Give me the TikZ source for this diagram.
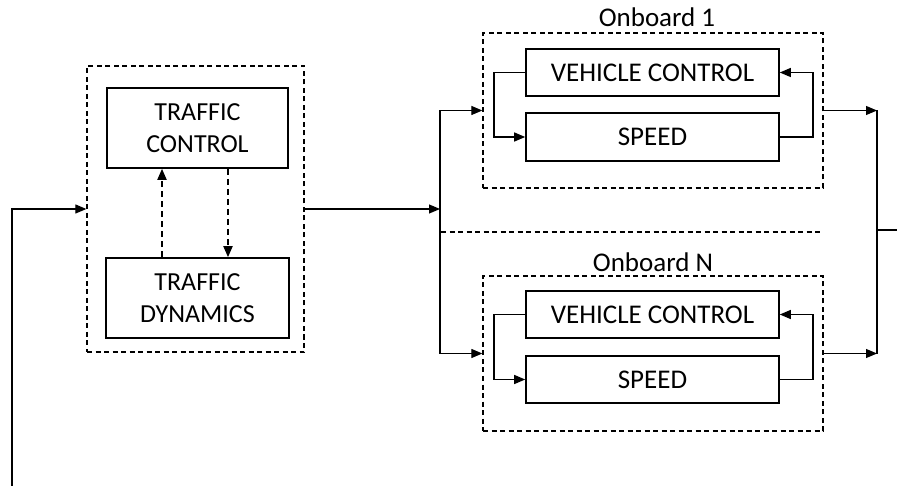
\documentclass[tikz,border=0pt]{standalone}
\usepackage{fontspec}
\setmainfont{Carlito}
\usetikzlibrary{arrows.meta}
\begin{document}
\begin{tikzpicture}[x=1pt,y=-1pt,
  blk/.style={draw,line width=1.6pt,rectangle,inner sep=0pt,anchor=center},
  grp/.style={draw,dash pattern=on 5pt off 3.5pt,line width=1.3pt,rectangle,inner sep=0pt,anchor=center},
  conn/.style={line width=1.2pt},
  tip/.style={-{Triangle[length=11pt,width=9pt]}},
  dconn/.style={dash pattern=on 6pt off 4pt,line width=1.8pt},
  bigtxt/.style={font=\fontsize{26}{32}\selectfont,align=center},
  medtxt/.style={font=\fontsize{27}{30}\selectfont},
  labtxt/.style={font=\fontsize{27}{30}\selectfont}
]
\useasboundingbox (0,0) rectangle (897,486);
% left group
\node[grp,minimum width=217pt,minimum height=286pt] (outerL) at (195.5,209) {};
\node[blk,minimum width=181pt,minimum height=80pt,bigtxt] (tc) at (197.5,128) {TRAFFIC\\CONTROL};
\node[blk,minimum width=183pt,minimum height=80pt,bigtxt] (td) at (197.5,298) {TRAFFIC\\DYNAMICS};
% onboard 1
\node[grp,minimum width=340pt,minimum height=155pt] (ob1) at (653,110.5) {};
\node[labtxt] (lab1) at (657,17) {Onboard 1};
\node[blk,minimum width=253pt,minimum height=47pt,medtxt] (vc1) at (652.5,72.5) {VEHICLE CONTROL};
\node[blk,minimum width=253pt,minimum height=48pt,medtxt] (sp1) at (652.5,137) {SPEED};
% onboard N
\node[grp,minimum width=340pt,minimum height=155pt] (obN) at (653,353.5) {};
\node[labtxt] (labN) at (653,262) {Onboard N};
\node[blk,minimum width=253pt,minimum height=47pt,medtxt] (vcN) at (652.5,314.5) {VEHICLE CONTROL};
\node[blk,minimum width=253pt,minimum height=47pt,medtxt] (spN) at (652.5,379.5) {SPEED};
% coordinates
\coordinate (start) at (12,486);
\coordinate (split) at (440,209);
\coordinate (merge) at (877,230);
\coordinate (outR) at (897,230);
\coordinate (sepL) at (441,232);
\coordinate (sepR) at (823,232);
% feedback from bottom
\draw[conn,tip] (start) -- (start |- outerL.west) -- (outerL.west);
% traffic loop
\draw[dconn,tip] (td.north -| 162,0) -- (tc.south -| 162,0);
\draw[dconn,tip] (tc.south -| 228,0) -- (td.north -| 228,0);
% split
\draw[conn,tip] (outerL.east) -- (split);
\draw[conn] (split |- ob1.west) -- (split |- obN.west);
\draw[conn,tip] (split |- ob1.west) -- (ob1.west);
\draw[conn,tip] (split |- obN.west) -- (obN.west);
% separator
\draw[dash pattern=on 5pt off 3.5pt,line width=1.3pt] (sepL) -- (sepR);
% onboard loops
\draw[conn,tip] (vc1.west) -- (494,0 |- vc1.west) -- (494,0 |- sp1.west) -- (sp1.west);
\draw[conn,tip] (sp1.east) -- (813,0 |- sp1.east) -- (813,0 |- vc1.east) -- (vc1.east);
\draw[conn,tip] (vcN.west) -- (494,0 |- vcN.west) -- (494,0 |- spN.west) -- (spN.west);
\draw[conn,tip] (spN.east) -- (813,0 |- spN.east) -- (813,0 |- vcN.east) -- (vcN.east);
% merge
\draw[conn,tip] (ob1.east) -- (merge |- ob1.east);
\draw[conn,tip] (obN.east) -- (merge |- obN.east);
\draw[conn] (merge |- ob1.east) -- (merge |- obN.east);
\draw[conn] (merge) -- (outR);
\end{tikzpicture}
\end{document}
